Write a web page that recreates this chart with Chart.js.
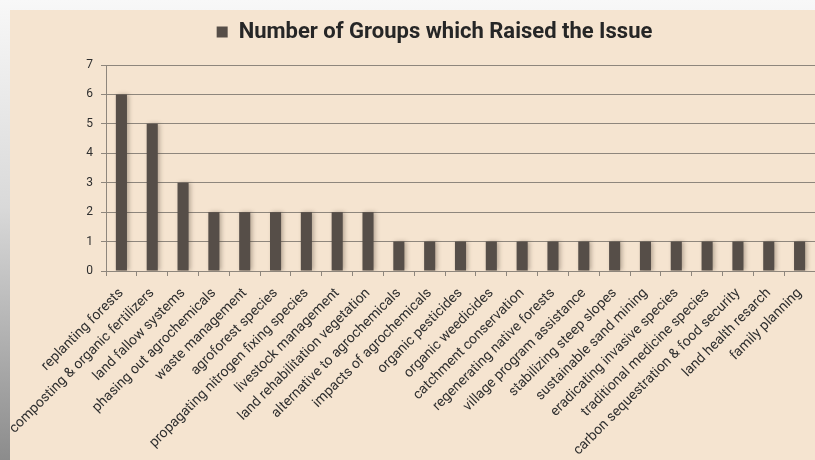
<!DOCTYPE html>
<html>
<head>
<meta charset="utf-8">
<script src="https://cdn.jsdelivr.net/npm/chart.js@4.4.1/dist/chart.umd.min.js"></script>
<style>
    html, body { margin: 0; padding: 0; }
    body {
        width: 815px; height: 460px; overflow: hidden; position: relative;
        background: linear-gradient(to bottom, #f8f8f8 0%, #d9d9d9 45%, #8c8c8c 100%);
    }
    #panel {
        position: absolute; left: 10px; top: 10px; width: 805px; height: 450px;
        background: #f5e4d0;
    }
</style>
</head>
<body>
<div id="panel"><canvas id="issues-chart"></canvas></div>
<script>
// Issues raised by the groups, in the order shown on the x axis
const categories = [
    'replanting forests',
    'composting & organic fertilizers',
    'land fallow systems',
    'phasing out agrochemicals',
    'waste management',
    'agroforest species',
    'propagating nitrogen fixing species',
    'livestock management',
    'land rehabilitation vegetation',
    'alternative to agrochemicals',
    'impacts of agrochemicals',
    'organic pesticides',
    'organic weedicides',
    'catchment conservation',
    'regenerating native forests',
    'village program assistance',
    'stabilizing steep slopes',
    'sustainable sand mining',
    'eradicating invasive species',
    'traditional medicine species',
    'carbon sequestration & food security',
    'land health resarch',
    'family planning'
];
const groupCounts = [6, 5, 3, 2, 2, 2, 2, 2, 2, 1, 1, 1, 1, 1, 1, 1, 1, 1, 1, 1, 1, 1, 1];
const seriesLabel = 'Number of Groups which Raised the Issue';
const yMin = 0, yMax = 7, yStep = 1;

const BAR_COLOR = '#564e48';
const GRID_COLOR = '#8e867c';
const TEXT_COLOR = '#2f2f2f';
const FONT = "Roboto, 'Liberation Sans', sans-serif";

// soft shadow behind the columns, like the Excel style
const barShadow = {
    id: 'barShadow',
    beforeDatasetsDraw(chart) {
        const c = chart.ctx;
        c.save();
        c.shadowColor = 'rgba(70, 55, 40, 0.35)';
        c.shadowBlur = 4;
        c.shadowOffsetX = 2;
    },
    afterDatasetsDraw(chart) {
        chart.ctx.restore();
    }
};

// extra room under the legend
const legendGap = {
    id: 'legendGap',
    beforeLayout(chart) {
        const lg = chart.legend;
        if (!lg || lg._gapPatched) return;
        const fit = lg.fit;
        lg.fit = function () { fit.call(this); this.height += 12; };
        lg._gapPatched = true;
    }
};

const ctx = document.getElementById('issues-chart').getContext('2d');
new Chart(ctx, {
    type: 'bar',
    data: {
        labels: categories,
        datasets: [{
            label: seriesLabel,
            data: groupCounts,
            backgroundColor: BAR_COLOR,
            borderWidth: 0,
            barPercentage: 0.36,
            categoryPercentage: 1.0
        }]
    },
    options: {
        responsive: true,
        maintainAspectRatio: false,
        animation: false,
        // left padding pushes the legend centre to the right, y axis is narrowed to match
        layout: { padding: { top: 1, left: 44, right: 0, bottom: 0 } },
        scales: {
            x: {
                grid: { display: true, drawOnChartArea: false, drawTicks: true, tickLength: 5, color: GRID_COLOR, offset: true },
                border: { display: true, color: GRID_COLOR, width: 1 },
                ticks: {
                    autoSkip: false, minRotation: 45, maxRotation: 45, padding: 9,
                    color: TEXT_COLOR, font: { family: FONT, size: 14 }
                },
                afterFit: (s) => { s.height = 189; s.paddingLeft = 0; s.paddingRight = 0; }
            },
            y: {
                min: yMin, max: yMax,
                grid: { color: GRID_COLOR, lineWidth: 1, drawTicks: true, tickLength: 5 },
                border: { display: true, color: GRID_COLOR, width: 1 },
                ticks: {
                    stepSize: yStep, padding: 8,
                    color: TEXT_COLOR, font: { family: FONT, size: 12 }
                },
                afterFit: (s) => { s.width = 52; s.paddingTop = 0; s.paddingBottom = 0; }
            }
        },
        plugins: {
            legend: {
                position: 'top',
                labels: {
                    boxWidth: 11, boxHeight: 11, padding: 10,
                    color: '#262626', font: { family: FONT, size: 22, weight: 'bold' }
                }
            },
            tooltip: { enabled: false }
        }
    },
    plugins: [barShadow, legendGap]
});
</script>
</body>
</html>
